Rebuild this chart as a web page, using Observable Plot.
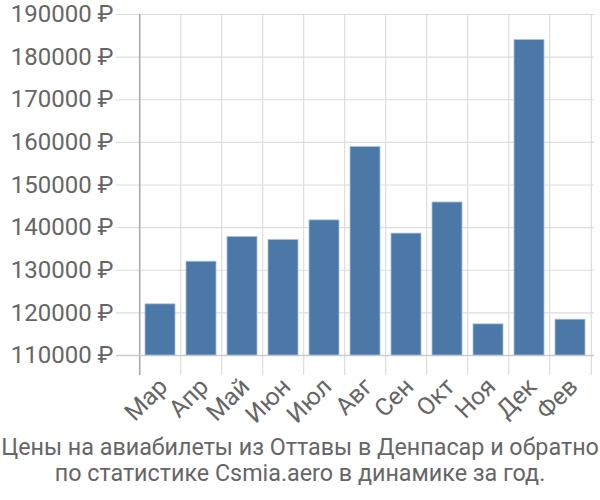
<!DOCTYPE html>
<html>
<head>
<meta charset="utf-8">
<script src="https://cdn.jsdelivr.net/npm/d3@7"></script>
<script src="https://cdn.jsdelivr.net/npm/@observablehq/plot@0.6"></script>
<style>
  body { margin: 0; background: #fff; font-family: Roboto, sans-serif; }
  #caption { width: 600px; text-align: center; color: #666; font-size: 23.3px; line-height: 26px; margin-top: -6px; white-space: nowrap; }
  #chart svg { overflow: visible; }
</style>
</head>
<body>
<div id="chart"></div>
<div id="caption">Цены на авиабилеты из Оттавы в Денпасар и обратно<br>по статистике Csmia.aero в динамике за год.</div>
<script>
const months = ["Мар", "Апр", "Май", "Июн", "Июл", "Авг", "Сен", "Окт", "Ноя", "Дек", "Фев"];
const prices = [122000, 132000, 137800, 137100, 141700, 158900, 138600, 145900, 117300, 184000, 118400];
const yTicks = [110000, 120000, 130000, 140000, 150000, 160000, 170000, 180000, 190000];

const data = months.map((m, i) => ({month: m, price: prices[i]}));
const W = 600, mL = 136, mR = 6;
const halfStep = (W - mL - mR) / months.length / 2;

const chart = Plot.plot({
  width: W,
  height: 440,
  marginTop: 14,
  marginBottom: 85,
  marginLeft: mL,
  marginRight: mR,
  style: {fontFamily: "Roboto, sans-serif", background: "#fff"},
  x: {domain: months, paddingInner: 0.28, paddingOuter: 0.14, axis: null},
  y: {domain: [110000, 190000], axis: null},
  marks: [
    Plot.ruleY(yTicks, {y: d => d, stroke: "#ddd", strokeWidth: 1.2, insetLeft: -20}),
    Plot.ruleX(months, {x: d => d, dx: -halfStep, stroke: "#ddd", strokeWidth: 1.2, insetBottom: -20}),
    Plot.ruleX([months[months.length - 1]], {x: d => d, dx: halfStep, stroke: "#ddd", strokeWidth: 1.2, insetBottom: -20}),
    Plot.ruleX([months[0]], {x: d => d, dx: -halfStep, stroke: "#aaa", strokeWidth: 1.5, insetBottom: -20}),
    Plot.ruleY([110000], {y: d => d, stroke: "#ccc", strokeWidth: 1.5, insetLeft: -20}),
    Plot.barY(data, {x: "month", y1: 110000, y2: "price", fill: "#4c78a8", stroke: "#a9c0da", strokeWidth: 0.8}),
    Plot.text(yTicks, {y: d => d, text: d => d + " ₽", frameAnchor: "left", dx: -23, textAnchor: "end", fontSize: 24, fill: "#666"}),
    Plot.text(months, {x: d => d, text: d => d, frameAnchor: "bottom", dy: 27, dx: 3, rotate: -45, textAnchor: "end", lineAnchor: "middle", fontSize: 24.5, fill: "#666"})
  ]
});
document.getElementById("chart").appendChild(chart);
</script>
</body>
</html>
